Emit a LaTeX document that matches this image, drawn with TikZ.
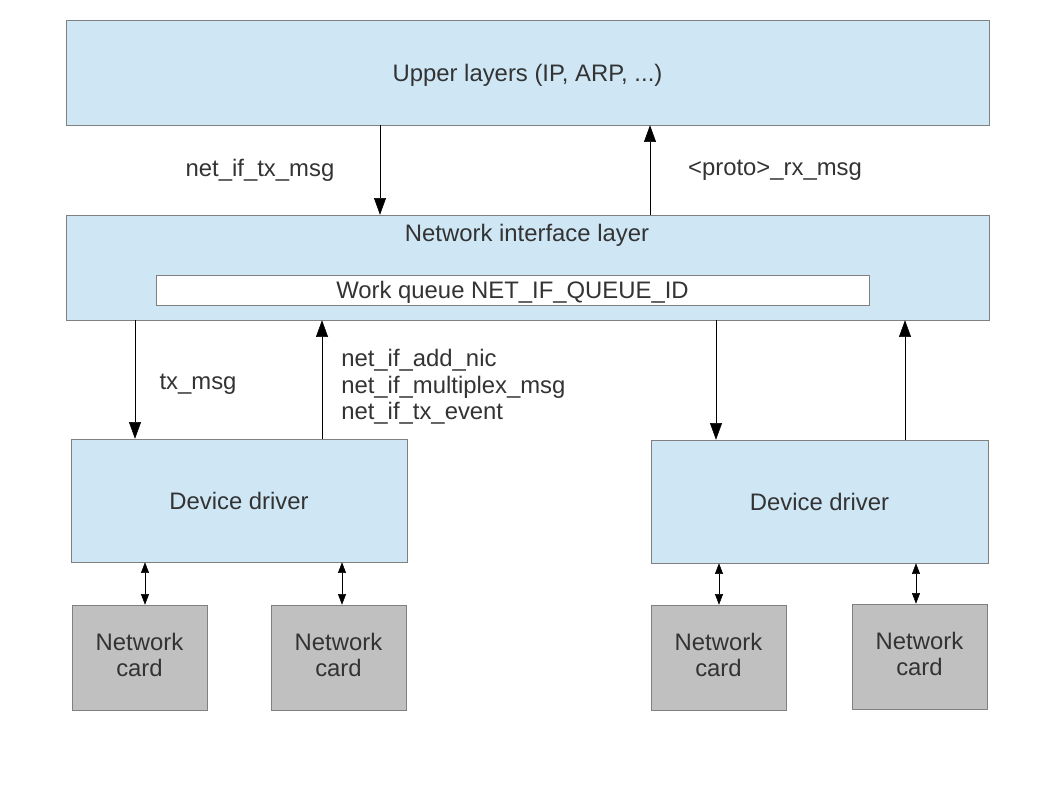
\documentclass[tikz,border=0pt]{standalone}
\usepackage{fontspec}
\setmainfont{Liberation Sans}
\usetikzlibrary{arrows.meta}
\definecolor{layerblue}{HTML}{CFE7F5}
\definecolor{cardgray}{HTML}{C0C0C0}
\definecolor{edgegray}{HTML}{808080}
\definecolor{txtgray}{HTML}{333333}
\newcommand{\lbl}{\fontsize{17.9}{20}\selectfont}

\begin{document}
\begin{tikzpicture}[x=0.75pt,y=-0.75pt]
    \tikzset{layer/.style={draw=edgegray,fill=layerblue,inner sep=0pt,text=txtgray,font=\lbl},
             card/.style={draw=edgegray,fill=cardgray,inner sep=0pt,text=txtgray,font=\lbl,align=center,
                          minimum width=135*0.75pt,minimum height=105*0.75pt},
             call/.style={-{Triangle[length=12.5pt,width=9pt]},black},
             link/.style={{Triangle[length=8pt,width=6pt]}-{Triangle[length=8pt,width=6pt]},black},
             txt/.style={text=txtgray,font=\lbl,inner sep=0pt,yshift=-1.8pt}}
    \useasboundingbox (0,0) rectangle (1058,794);
    % layers
    \node[layer,minimum width=923*0.75pt,minimum height=105*0.75pt] (upper) at (527.5,72.5) {};
    \node[txt] (uppertitle) at (upper) {Upper layers (IP, ARP, ...)};
    \node[layer,minimum width=923*0.75pt,minimum height=105*0.75pt] (netif) at (527.5,267.5) {};
    \node[txt] (netiftitle) at (527,233) {Network interface layer};
    \node[layer,fill=white,minimum width=713*0.75pt,minimum height=30*0.75pt] (wq) at (512.5,290) {};
    \node[txt] (wqtitle) at (wq) {Work queue NET\_IF\_QUEUE\_ID};
    % drivers
    \node[layer,minimum width=336*0.75pt,minimum height=123*0.75pt] (drvL) at (239,500.5) {};
    \node[layer,minimum width=337*0.75pt,minimum height=123*0.75pt] (drvR) at (819.5,501.5) {};
    \node[txt,yshift=1.5pt] (drvLtitle) at (drvL) {Device driver};
    \node[txt,yshift=1.5pt] (drvRtitle) at (drvR) {Device driver};
    % cards
    \node[card] (cardA) at (139.5,657.5) {};
    \node[card] (cardB) at (338.5,657.5) {};
    \node[card] (cardC) at (718.5,657.5) {};
    \node[card] (cardD) at (919.5,656.5) {};
    \foreach \c in {cardA,cardB,cardC,cardD}
        \node[txt,align=center,yshift=3.6pt] at (\c) {Network\\card};
    % calls between layers
    \draw[call] (upper.south -| 380,0) -- (netif.north -| 380,0);
    \draw[call] (netif.north -| 650,0) -- (upper.south -| 650,0);
    \node[txt] (txmsg) at (260,168) {net\_if\_tx\_msg};
    \node[txt] (rxmsg) at (775,168) {<proto>\_rx\_msg};
    \draw[call] (netif.south -| 135,0) -- (drvL.north -| 135,0);
    \draw[call] (drvL.north -| 322,0) -- (netif.south -| 322,0);
    \draw[call] (netif.south -| 716,0) -- (drvR.north -| 716,0);
    \draw[call] (drvR.north -| 905,0) -- (netif.south -| 905,0);
    \node[txt] (drvtx) at (198,382) {tx\_msg};
    \node[txt,anchor=west,align=left] (drvup) at (341,384.5) {net\_if\_add\_nic\\net\_if\_multiplex\_msg\\net\_if\_tx\_event};
    % driver <-> card
    \draw[link] (drvL.south -| 145,0) -- (cardA.north -| 145,0);
    \draw[link] (drvL.south -| 342,0) -- (cardB.north -| 342,0);
    \draw[link] (drvR.south -| 719,0) -- (cardC.north -| 719,0);
    \draw[link] (drvR.south -| 916,0) -- (cardD.north -| 916,0);
\end{tikzpicture}
\end{document}
